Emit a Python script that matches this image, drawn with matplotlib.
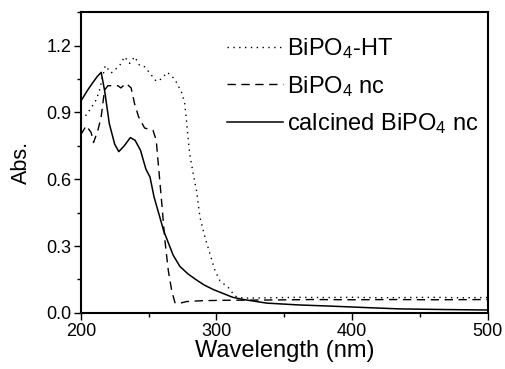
import matplotlib
matplotlib.use("Agg")
import matplotlib.pyplot as plt
from matplotlib.ticker import MultipleLocator, FormatStrFormatter

plt.rcParams["font.family"] = ["Liberation Sans", "DejaVu Sans"]
plt.rcParams["mathtext.fontset"] = "custom"
plt.rcParams["mathtext.rm"] = "Liberation Sans"
plt.rcParams["mathtext.default"] = "regular"

# BiPO4-HT (dotted)
ht_x = [200, 203, 207.6, 211.3, 213.8, 218, 222.4, 228.6, 232.3, 236, 239.7, 243.4,
        247, 250.8, 255.6, 259.3, 263.8, 269.2, 274.3, 276.6, 277.8, 279, 280.4,
        282.8, 285.4, 287.8, 291.5, 295.2, 298.9, 302.6, 308.7, 313.7, 320, 340,
        360, 380, 400, 420, 440, 460, 480, 500]
ht_y = [0.87, 0.88, 0.92, 0.956, 1.0, 1.11, 1.077, 1.11, 1.15, 1.12, 1.15, 1.11,
        1.105, 1.077, 1.04, 1.05, 1.08, 1.05, 0.99, 0.94, 0.87, 0.79, 0.71,
        0.626, 0.545, 0.43, 0.34, 0.265, 0.19, 0.144, 0.114, 0.075, 0.066, 0.068,
        0.07, 0.069, 0.07, 0.068, 0.069, 0.07, 0.068, 0.069]

# BiPO4 nc (dashed)
nc_x = [200, 204, 207.6, 209.4, 212.6, 215, 217.5, 220, 223.6, 227.3, 229.5, 233.4,
        237.1, 239.6, 242.6, 247, 253.2, 255.6, 256.8, 259.5, 262, 264.5, 267, 269.4,
        272, 278, 290, 310, 340, 370, 400, 430, 460, 500]
nc_y = [0.80, 0.84, 0.81, 0.765, 0.82, 0.88, 1.0, 1.02, 1.02, 1.02, 1.01, 1.03,
        1.01, 0.94, 0.88, 0.83, 0.82, 0.775, 0.69, 0.505, 0.325, 0.19, 0.1, 0.046,
        0.042, 0.051, 0.055, 0.057, 0.058, 0.06, 0.059, 0.06, 0.059, 0.06]

# calcined BiPO4 nc (solid)
cal_x = [200, 205, 209, 212, 215, 217.5, 221, 225, 228, 232, 236.5, 240, 244, 248,
         251, 254, 258, 261, 264.5, 268, 273, 279, 285, 291, 298, 305, 312, 320,
         337, 360, 386, 410, 435, 470, 500]
cal_y = [0.95, 1.0, 1.035, 1.06, 1.08, 1.0, 0.85, 0.757, 0.724, 0.75, 0.787, 0.775,
         0.73, 0.645, 0.61, 0.52, 0.435, 0.37, 0.315, 0.26, 0.209, 0.175, 0.149,
         0.125, 0.104, 0.087, 0.07, 0.06, 0.044, 0.036, 0.03, 0.024, 0.018, 0.015, 0.013]

fig = plt.figure(figsize=(5.05, 3.69), dpi=100)
ax = fig.add_axes([0.160, 0.152, 0.806, 0.815])

ax.plot(ht_x, ht_y, color="black", lw=1.0, linestyle=(0, (1, 3.2)), label="BiPO$_4$-HT")
ax.plot(nc_x, nc_y, color="black", lw=1.0, linestyle=(0, (6, 4)), label="BiPO$_4$ nc")
ax.plot(cal_x, cal_y, color="black", lw=1.1, linestyle="-", label="calcined BiPO$_4$ nc")

ax.set_xlim(200, 500)
ax.set_ylim(0, 1.35)
ax.xaxis.set_major_locator(MultipleLocator(100))
ax.xaxis.set_minor_locator(MultipleLocator(50))
ax.yaxis.set_major_locator(MultipleLocator(0.3))
ax.yaxis.set_minor_locator(MultipleLocator(0.15))
ax.yaxis.set_major_formatter(FormatStrFormatter("%.1f"))

ax.tick_params(which="both", direction="out", top=False, right=False, labelsize=13, width=1.0)
ax.tick_params(which="major", length=5, pad=2)
ax.tick_params(which="minor", length=3)
for s in ax.spines.values():
    s.set_linewidth(1.5)

ax.set_xlabel("Wavelength (nm)", fontsize=17, labelpad=0)
ax.set_ylabel("Abs.", fontsize=15.5, labelpad=10)

ax.legend(loc="upper left", bbox_to_anchor=(0.359, 0.92), frameon=False, fontsize=17,
          handlelength=2.37, handletextpad=0.17, labelspacing=0.53,
          borderpad=0, borderaxespad=0)

fig.savefig("out.png", dpi=100)
